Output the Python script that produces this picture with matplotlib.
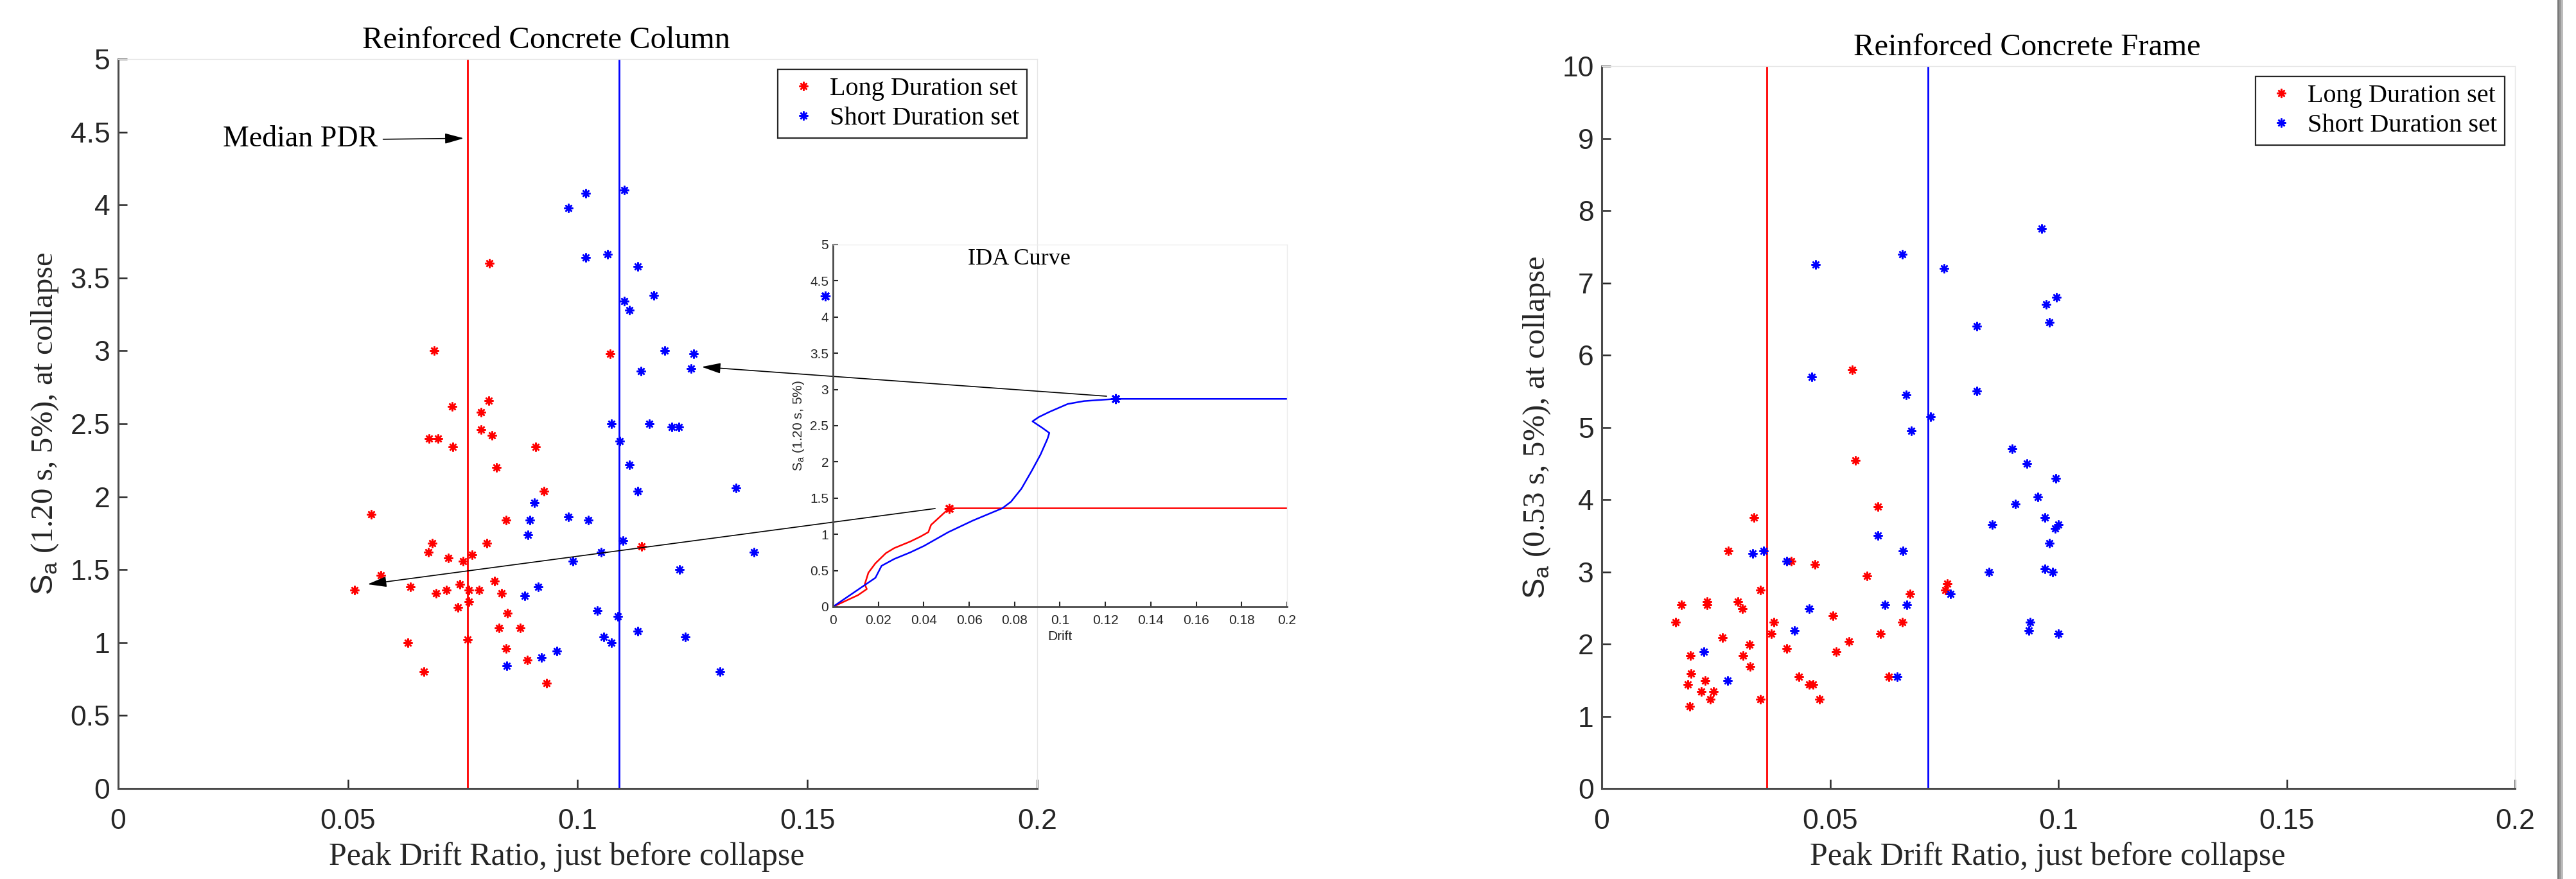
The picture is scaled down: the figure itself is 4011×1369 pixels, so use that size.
import numpy as np
import matplotlib.pyplot as plt
from matplotlib.patches import Rectangle

plt.rcParams['font.family'] = 'Liberation Sans'
plt.rcParams['mathtext.fontset'] = 'custom'
plt.rcParams['mathtext.rm'] = 'Liberation Sans'
plt.rcParams['mathtext.it'] = 'Liberation Sans:italic'

SERIF = 'Liberation Serif'
RED = '#ff0000'
BLUE = '#0000ff'
AXC = '#262626'
STAR = (8, 2, 0)   # asterisk marker like MATLAB '*'

# ---------------- data: Reinforced Concrete Column ----------------
col_long_x = [0.0808, 0.0687, 0.1070, 0.0727, 0.0807, 0.0789, 0.0677, 0.0696, 0.0790, 0.0813,
              0.0728, 0.0908, 0.0823, 0.0926, 0.0551, 0.0844, 0.0684, 0.0802, 0.0675, 0.1139,
              0.0718, 0.0770, 0.0751, 0.0571, 0.0819, 0.0743, 0.0515, 0.0636, 0.0692, 0.0714,
              0.0763, 0.0785, 0.0835, 0.0763, 0.0739, 0.0847, 0.0829, 0.0875, 0.0631, 0.0761,
              0.0844, 0.0890, 0.0665, 0.0932]
col_long_y = [3.60, 3.00, 2.98, 2.62, 2.66, 2.58, 2.40, 2.40, 2.46, 2.42,
              2.34, 2.34, 2.20, 2.04, 1.88, 1.84, 1.68, 1.68, 1.62, 1.66,
              1.58, 1.60, 1.56, 1.46, 1.42, 1.40, 1.36, 1.38, 1.34, 1.36,
              1.36, 1.36, 1.34, 1.28, 1.24, 1.20, 1.10, 1.10, 1.00, 1.02,
              0.96, 0.88, 0.80, 0.72]
col_short_x = [0.1101, 0.1018, 0.0980, 0.1017, 0.1065, 0.1130, 0.1165, 0.1101, 0.1113, 0.1190,
               0.1252, 0.1246, 0.1137, 0.1074, 0.1156, 0.1205, 0.1220, 0.1091, 0.1112, 0.1130,
               0.1344, 0.0905, 0.0896, 0.0980, 0.1023, 0.0891, 0.1098, 0.1051, 0.1384, 0.0989,
               0.1222, 0.0914, 0.0885, 0.1042, 0.1088, 0.1130, 0.1056, 0.1234, 0.1074, 0.0955,
               0.0921, 0.0846, 0.1310]
col_short_y = [4.10, 4.08, 3.98, 3.64, 3.66, 3.58, 3.38, 3.34, 3.28, 3.00,
               2.98, 2.88, 2.86, 2.50, 2.50, 2.48, 2.48, 2.38, 2.22, 2.04,
               2.06, 1.96, 1.84, 1.86, 1.84, 1.74, 1.70, 1.62, 1.62, 1.56,
               1.50, 1.38, 1.32, 1.22, 1.18, 1.08, 1.04, 1.04, 1.00, 0.94,
               0.90, 0.84, 0.80]
col_median = [0.076, 0.109]   # long, short

# ---------------- data: IDA curves (inset) ----------------
ida_long_x = [0, 0.011, 0.0149, 0.0140, 0.0156, 0.0187, 0.0233, 0.0270, 0.0340, 0.0386,
              0.0420, 0.0432, 0.0512, 0.2]
ida_long_y = [0, 0.16, 0.244, 0.31, 0.47, 0.60, 0.74, 0.81, 0.90, 0.97,
              1.03, 1.13, 1.36, 1.36]
ida_short_x = [0, 0.0187, 0.0214, 0.0270, 0.0340, 0.0401, 0.0508, 0.0616, 0.0746, 0.0784,
               0.0830, 0.0876, 0.0914, 0.0945, 0.0953, 0.0922, 0.0879, 0.0907, 0.0953, 0.1034,
               0.1106, 0.1244, 0.2]
ida_short_y = [0, 0.40, 0.565, 0.66, 0.75, 0.84, 1.03, 1.19, 1.36, 1.45,
               1.63, 1.88, 2.10, 2.32, 2.40, 2.47, 2.56, 2.62, 2.69, 2.80,
               2.84, 2.87, 2.87]
ida_collapse_long = [0.0512, 1.36]
ida_collapse_short = [0.1244, 2.87]
ida_stray_short = [-0.0035, 4.29]

# ---------------- data: Reinforced Concrete Frame ----------------
frm_long_x = [0.0549, 0.0556, 0.0605, 0.0334, 0.0277, 0.0467, 0.0415, 0.0581, 0.0756, 0.0753,
              0.0347, 0.0675, 0.0175, 0.0230, 0.0231, 0.0298, 0.0308, 0.0506, 0.0162, 0.0377,
              0.0658, 0.0264, 0.0324, 0.0371, 0.0611, 0.0542, 0.0405, 0.0194, 0.0309, 0.0513,
              0.0325, 0.0195, 0.0227, 0.0432, 0.0629, 0.0189, 0.0454, 0.0462, 0.0218, 0.0244,
              0.0238, 0.0347, 0.0477, 0.0192]
frm_long_y = [5.80, 4.54, 3.90, 3.75, 3.29, 3.10, 3.15, 2.94, 2.84, 2.75,
              2.75, 2.69, 2.54, 2.54, 2.59, 2.59, 2.49, 2.39, 2.30, 2.30,
              2.30, 2.09, 1.99, 2.14, 2.14, 2.04, 1.94, 1.84, 1.84, 1.89,
              1.69, 1.59, 1.49, 1.55, 1.55, 1.44, 1.44, 1.44, 1.34, 1.34,
              1.24, 1.24, 1.24, 1.14]
frm_short_x = [0.0964, 0.0658, 0.0468, 0.0750, 0.0996, 0.0973, 0.0980, 0.0822, 0.0460, 0.0822,
               0.0666, 0.0720, 0.0678, 0.0899, 0.0931, 0.0994, 0.0955, 0.0906, 0.0971, 0.0855,
               0.1000, 0.0993, 0.0605, 0.0980, 0.0354, 0.0659, 0.0331, 0.0405, 0.0970, 0.0848,
               0.0987, 0.0764, 0.0620, 0.0668, 0.0454, 0.0938, 0.0935, 0.1000, 0.0422, 0.0224,
               0.0275, 0.0647]
frm_short_y = [7.75, 7.40, 7.25, 7.20, 6.80, 6.70, 6.45, 6.40, 5.70, 5.50,
               5.45, 5.15, 4.95, 4.70, 4.50, 4.29, 4.04, 3.94, 3.75, 3.65,
               3.65, 3.60, 3.50, 3.40, 3.29, 3.29, 3.25, 3.15, 3.04, 3.00,
               3.00, 2.69, 2.54, 2.54, 2.49, 2.30, 2.19, 2.14, 2.19, 1.89,
               1.49, 1.55]
frm_median = [0.0361, 0.0714]

# ---------------- ticks / labels ----------------
x_ticks = [0, 0.05, 0.1, 0.15, 0.2]
x_labels = ['0', '0.05', '0.1', '0.15', '0.2']
col_y_ticks = [0, 0.5, 1, 1.5, 2, 2.5, 3, 3.5, 4, 4.5, 5]
col_y_labels = ['0', '0.5', '1', '1.5', '2', '2.5', '3', '3.5', '4', '4.5', '5']
frm_y_ticks = list(range(11))
frm_y_labels = [str(t) for t in frm_y_ticks]
ins_x_ticks = [0, 0.02, 0.04, 0.06, 0.08, 0.1, 0.12, 0.14, 0.16, 0.18, 0.2]
ins_x_labels = ['0', '0.02', '0.04', '0.06', '0.08', '0.1', '0.12', '0.14', '0.16', '0.18', '0.2']

fig = plt.figure(figsize=(40.12, 13.69), dpi=100)
ax1 = fig.add_axes([0.04586, 0.10299, 0.35668, 0.82980])
ax2 = fig.add_axes([0.62164, 0.10299, 0.35444, 0.82177])
axi = fig.add_axes([0.32328, 0.30972, 0.17622, 0.41198], facecolor='none')


def style_main(ax, yticks, ylabels, ylim, title, ylabel):
    ax.set_xlim(0, 0.2)
    ax.set_ylim(*ylim)
    ax.set_xticks(x_ticks, x_labels)
    ax.set_yticks(yticks, ylabels)
    for s in ['top', 'right']:
        ax.spines[s].set_color('#e6e6e6')
        ax.spines[s].set_linewidth(1)
    for s in ['left', 'bottom']:
        ax.spines[s].set_color('#4a4a4a')
        ax.spines[s].set_linewidth(2.2)
    ax.tick_params(direction='in', length=10, width=1.8, colors=AXC, labelsize=32,
                   top=False, right=False)
    ax.tick_params(axis='x', pad=22)
    ax.tick_params(axis='y', pad=9)
    ax.set_title(title, fontfamily=SERIF, fontsize=35, x=0.466, pad=12)
    ax.set_xlabel('Peak Drift Ratio, just before collapse', fontfamily=SERIF,
                  fontsize=36, x=0.488, labelpad=8, color=AXC)
    ax.set_ylabel(ylabel, fontfamily=SERIF, fontsize=35, labelpad=11, color=AXC)


def scatter_sets(ax, lx, ly, sx, sy, med):
    ax.axvline(med[0], color=RED, lw=2)
    ax.axvline(med[1], color=BLUE, lw=2)
    ax.plot(lx, ly, ls='none', marker=STAR, ms=10, mew=1.8, color=RED, label='Long Duration set')
    ax.plot(sx, sy, ls='none', marker=STAR, ms=10, mew=1.8, color=BLUE, label='Short Duration set')
    h = ax.get_lines()[2:]
    leg = ax.legend(h, [l.get_label() for l in h], loc='upper right', fancybox=False,
                    prop={'family': SERIF, 'size': 29}, handlelength=1.4,
                    handletextpad=0.3, labelspacing=0.2, borderpad=0.3,
                    borderaxespad=0.4, framealpha=1)
    leg.get_frame().set_edgecolor(AXC)
    leg.get_frame().set_linewidth(1.6)


# ---- left: column ----
style_main(ax1, col_y_ticks, col_y_labels, (0, 5), 'Reinforced Concrete Column',
           r'$\rm S_a$ (1.20 s, 5%), at collapse')
scatter_sets(ax1, col_long_x, col_long_y, col_short_x, col_short_y, col_median)

arrow = dict(arrowstyle='-|>,head_length=0.9,head_width=0.25', color='black', lw=1.2,
             mutation_scale=20, shrinkA=0, shrinkB=0)
ax1.annotate('Median PDR', xy=(0.0752, 4.457), xytext=(0.0565, 4.45),
             ha='right', va='center', fontfamily=SERIF, fontsize=33,
             arrowprops=dict(arrow, relpos=(1, 0.5), shrinkA=4))
ax1.annotate('', xy=(0.0543, 1.40), xytext=(0.1778, 1.919), arrowprops=arrow,
             annotation_clip=False)
ax1.annotate('', xy=(0.1270, 2.89), xytext=(0.2151, 2.689), arrowprops=arrow,
             annotation_clip=False)

# ---- inset: IDA curves ----
axi.plot(ida_long_x, ida_long_y, color=RED, lw=1.8)
axi.plot(ida_short_x, ida_short_y, color=BLUE, lw=1.8)
axi.plot(*ida_collapse_long, ls='none', marker=STAR, ms=11, mew=2, color=RED)
axi.plot(*ida_collapse_short, ls='none', marker=STAR, ms=11, mew=2, color=BLUE)
axi.plot(*ida_stray_short, ls='none', marker=STAR, ms=11, mew=2, color=BLUE, clip_on=False)
axi.set_xlim(0, 0.2)
axi.set_ylim(0, 5)
axi.set_xticks(ins_x_ticks, ins_x_labels)
axi.set_yticks(col_y_ticks, col_y_labels)
for s in ['top', 'right']:
    axi.spines[s].set_color('#ececec')
    axi.spines[s].set_linewidth(1)
for s in ['left', 'bottom']:
    axi.spines[s].set_color('#4a4a4a')
    axi.spines[s].set_linewidth(2)
axi.tick_params(direction='in', length=6, width=1.5, colors=AXC, labelsize=15,
                top=False, right=False)
axi.tick_params(axis='x', pad=9)
axi.tick_params(axis='y', pad=5)
axi.set_xlabel('Drift', fontsize=15, labelpad=4, color=AXC)
axi.set_ylabel(r'$\rm S_a$ (1.20 s, 5%)', fontsize=15, labelpad=4, color=AXC)
axi.text(0.41, 0.96, 'IDA Curve', transform=axi.transAxes, ha='center', va='center',
         fontfamily=SERIF, fontsize=26)

# ---- right: frame ----
style_main(ax2, frm_y_ticks, frm_y_labels, (0, 10), 'Reinforced Concrete Frame',
           r'$\rm S_a$ (0.53 s, 5%), at collapse')
scatter_sets(ax2, frm_long_x, frm_long_y, frm_short_x, frm_short_y, frm_median)

# page edge shadow at the far right
for x0, c in [(0.99250, '#7a7a7a'), (0.99320, '#9a9a9a'), (0.99390, '#bdbdbd')]:
    fig.add_artist(Rectangle((x0, 0), 0.0008, 1, transform=fig.transFigure,
                             color=c, lw=0))

fig.savefig('out.png', dpi=100, facecolor='white')
